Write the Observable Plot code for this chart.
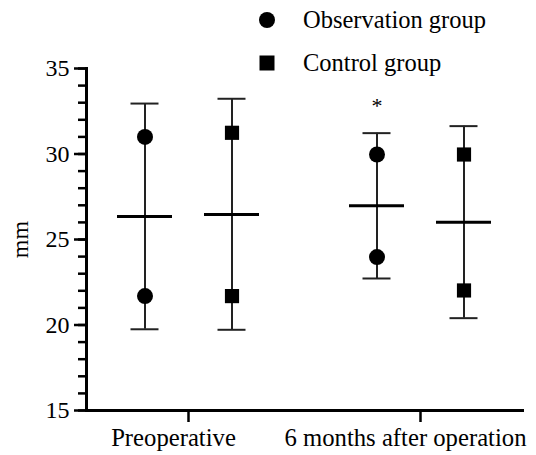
<!DOCTYPE html>
<html><head><meta charset="utf-8">
<script src="https://cdn.jsdelivr.net/npm/d3@7"></script>
<script src="https://cdn.jsdelivr.net/npm/@observablehq/plot@0.6"></script>
<style>
body{margin:0;background:#fff;}
#wrap{position:relative;width:536px;height:455px;font-family:"Liberation Serif","Times New Roman",serif;}
#legend{position:absolute;left:258px;top:-2px;font-size:24.5px;color:#000;}
.item{display:flex;align-items:center;height:43px;}
.item svg{width:18px;height:18px;margin-right:27px;}
</style>
</head><body>
<div id="wrap"><div id="legend"></div></div>
<script>
const timepoints = ["Preoperative", "6 months after operation"];
const groups = ["Observation group", "Control group"];
const rowTime  = ["Preoperative", "Preoperative", "6 months after operation", "6 months after operation"];
const rowGroup = ["Observation group", "Control group", "Observation group", "Control group"];
const meanVals  = [26.35, 26.46, 26.97, 26.01];
const upperVals = [32.95, 33.23, 31.22, 31.63];
const lowerVals = [19.75, 19.72, 22.72, 20.40];
const highPts   = [31.00, 31.24, 29.97, 29.97];
const lowPts    = [21.69, 21.69, 23.97, 22.02];
const majorTicks = [15, 20, 25, 30, 35];
const minorTicks = d3.range(15, 36, 1);
const annotTime = ["6 months after operation"];
const annotGroup = ["Observation group"];
const annotText = ["*"];

const rows = rowTime.map((t, i) => ({time: t, group: rowGroup[i], mean: meanVals[i], upper: upperVals[i], lower: lowerVals[i]}));
const points = rowTime.flatMap((t, i) => [
  {time: t, group: rowGroup[i], value: highPts[i]},
  {time: t, group: rowGroup[i], value: lowPts[i]}
]);
const annots = annotTime.map((t, i) => {
  const r = rows.find(d => d.time === t && d.group === annotGroup[i]);
  return {time: t, group: annotGroup[i], value: r.upper, label: annotText[i]};
});

const chart = Plot.plot({
  width: 536, height: 455,
  marginLeft: 86, marginRight: 13, marginTop: 68, marginBottom: 45,
  style: {fontFamily: "'Liberation Serif', 'Times New Roman', serif", fontSize: "24px", color: "#000", background: "transparent"},
  fx: {domain: timepoints, paddingInner: 0.12, paddingOuter: 0, label: null},
  x: {domain: groups, paddingInner: 0.364, paddingOuter: 0.3445, axis: null},
  y: {domain: [15, 35], axis: null},
  symbol: {domain: groups, range: ["circle", "square"]},
  marks: [
    Plot.axisY({ticks: minorTicks, tickSize: 8, text: null, strokeWidth: 2.5, label: null}),
    Plot.axisY({ticks: majorTicks, tickSize: 12, tickPadding: 5, strokeWidth: 2.5, label: "mm", labelAnchor: "center", labelArrow: false, labelOffset: 76}),
    Plot.axisFx({anchor: "bottom", tickSize: 12, text: null, strokeWidth: 2.5, label: null}),
    Plot.axisFx({anchor: "bottom", tickSize: 0, tickPadding: 18, fontSize: 24.7, dx: -15, label: null}),
    Plot.frame({anchor: "left", facet: "super", strokeWidth: 3}),
    Plot.frame({anchor: "bottom", facet: "super", strokeWidth: 3}),
    Plot.ruleX(rows, {fx: "time", x: "group", y1: "lower", y2: "upper", strokeWidth: 2, stroke: "#222"}),
    Plot.tickY(rows, {fx: "time", x: "group", y: "upper", insetLeft: 13.5, insetRight: 13.5, strokeWidth: 2, stroke: "#222"}),
    Plot.tickY(rows, {fx: "time", x: "group", y: "lower", insetLeft: 13.5, insetRight: 13.5, strokeWidth: 2, stroke: "#222"}),
    Plot.tickY(rows, {fx: "time", x: "group", y: "mean", strokeWidth: 3, stroke: "#000"}),
    Plot.dot(points, {fx: "time", x: "group", y: "value", symbol: "group", fill: "#000", stroke: "none", r: 8}),
    Plot.text(annots, {fx: "time", x: "group", y: "value", text: "label", fontSize: 22, lineAnchor: "bottom", dy: -20})
  ]
});
const wrap = document.getElementById("wrap");
wrap.insertBefore(chart, wrap.firstChild);

const legend = document.getElementById("legend");
groups.forEach((g, i) => {
  const item = document.createElement("div");
  item.className = "item";
  const sym = i === 0
    ? '<svg viewBox="0 0 18 18"><circle cx="9" cy="9" r="8" fill="#000"/></svg>'
    : '<svg viewBox="0 0 18 18"><rect x="1.5" y="1.5" width="15" height="15" fill="#000"/></svg>';
  item.innerHTML = sym + '<span>' + g + '</span>';
  legend.appendChild(item);
});
</script>
</body></html>
